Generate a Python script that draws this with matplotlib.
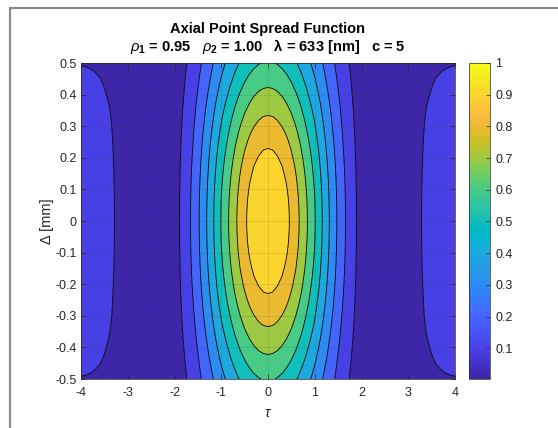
import numpy as np
import matplotlib
matplotlib.use("Agg")
import matplotlib.pyplot as plt
from matplotlib.colors import LinearSegmentedColormap, Normalize
from matplotlib.cm import ScalarMappable
from matplotlib.patches import Rectangle

plt.rcParams["font.family"] = ["Liberation Sans", "DejaVu Sans"]
plt.rcParams["mathtext.fontset"] = "custom"
plt.rcParams["mathtext.rm"] = "Liberation Sans"
plt.rcParams["mathtext.it"] = "Liberation Sans:italic"
plt.rcParams["mathtext.bf"] = "Liberation Sans:bold"
plt.rcParams["axes.unicode_minus"] = False

# ---- data -----------------------------------------------------------------
# sample grid
tau = np.linspace(-4.0, 4.0, 81)
delta = np.linspace(-0.5, 0.5, 41)   # [mm]

# normalised intensity along tau (at delta = 0)
profile_tau = [
    0.162, 0.159, 0.154, 0.147, 0.138, 0.127, 0.115, 0.102, 0.089, 0.074,
    0.058, 0.043, 0.028, 0.016, 0.008, 0.005, 0.006, 0.011, 0.022, 0.040,
    0.065, 0.097, 0.138, 0.179, 0.228, 0.283, 0.344, 0.407, 0.473, 0.540,
    0.606, 0.666, 0.725, 0.782, 0.835, 0.882, 0.923, 0.956, 0.980, 0.995,
    1.000,
    0.995, 0.980, 0.956, 0.923, 0.882, 0.835, 0.782, 0.725, 0.666, 0.606,
    0.540, 0.473, 0.407, 0.344, 0.283, 0.228, 0.179, 0.138, 0.097, 0.065,
    0.040, 0.022, 0.011, 0.006, 0.005, 0.008, 0.016, 0.028, 0.043, 0.058,
    0.074, 0.089, 0.102, 0.115, 0.127, 0.138, 0.147, 0.154, 0.159, 0.162,
]

# relative falloff along delta for the main lobe and for the side lobes
falloff_main = [
    0.607, 0.637, 0.667, 0.697, 0.726, 0.755, 0.783, 0.810, 0.835, 0.860,
    0.883, 0.904, 0.923, 0.941, 0.956, 0.969, 0.980, 0.989, 0.995, 0.999,
    1.000,
    0.999, 0.995, 0.989, 0.980, 0.969, 0.956, 0.941, 0.923, 0.904, 0.883,
    0.860, 0.835, 0.810, 0.783, 0.755, 0.726, 0.697, 0.667, 0.637, 0.607,
]
falloff_side = [
    0.590, 0.670, 0.735, 0.780, 0.820, 0.858, 0.890, 0.912, 0.930, 0.942,
    0.952, 0.962, 0.970, 0.978, 0.985, 0.989, 0.993, 0.996, 0.998, 1.000,
    1.000,
    1.000, 0.998, 0.996, 0.993, 0.989, 0.985, 0.978, 0.970, 0.962, 0.952,
    0.942, 0.930, 0.912, 0.890, 0.858, 0.820, 0.780, 0.735, 0.670, 0.590,
]
side_lobe_start = 2.55

contour_levels = [0.1, 0.2, 0.3, 0.4, 0.5, 0.6, 0.7, 0.8, 0.9]
colorbar_ticks = [0.1, 0.2, 0.3, 0.4, 0.5, 0.6, 0.7, 0.8, 0.9, 1.0]
colorbar_ticklabels = ["0.1", "0.2", "0.3", "0.4", "0.5", "0.6", "0.7", "0.8", "0.9", "1"]
xticks = [-4, -3, -2, -1, 0, 1, 2, 3, 4]
yticks = [-0.5, -0.4, -0.3, -0.2, -0.1, 0, 0.1, 0.2, 0.3, 0.4, 0.5]
yticklabels = ["-0.5", "-0.4", "-0.3", "-0.2", "-0.1", "0", "0.1", "0.2", "0.3", "0.4", "0.5"]

# ---- parula colormap --------------------------------------------------------
parula_data = [
    [0.2422, 0.1504, 0.6603], [0.2504, 0.1650, 0.7076], [0.2578, 0.1818, 0.7511],
    [0.2647, 0.1978, 0.7952], [0.2706, 0.2147, 0.8364], [0.2751, 0.2342, 0.8710],
    [0.2783, 0.2559, 0.8991], [0.2803, 0.2782, 0.9221], [0.2813, 0.3006, 0.9414],
    [0.2810, 0.3228, 0.9579], [0.2795, 0.3447, 0.9717], [0.2760, 0.3667, 0.9829],
    [0.2699, 0.3892, 0.9906], [0.2602, 0.4123, 0.9952], [0.2440, 0.4358, 0.9988],
    [0.2206, 0.4603, 0.9973], [0.1963, 0.4847, 0.9892], [0.1834, 0.5074, 0.9798],
    [0.1786, 0.5289, 0.9682], [0.1764, 0.5499, 0.9520], [0.1687, 0.5703, 0.9359],
    [0.1540, 0.5902, 0.9218], [0.1460, 0.6091, 0.9079], [0.1380, 0.6276, 0.8973],
    [0.1248, 0.6459, 0.8883], [0.1113, 0.6635, 0.8763], [0.0952, 0.6798, 0.8598],
    [0.0689, 0.6948, 0.8394], [0.0297, 0.7082, 0.8163], [0.0036, 0.7203, 0.7917],
    [0.0067, 0.7312, 0.7660], [0.0433, 0.7411, 0.7394], [0.0964, 0.7500, 0.7120],
    [0.1408, 0.7584, 0.6842], [0.1717, 0.7670, 0.6554], [0.1938, 0.7758, 0.6251],
    [0.2161, 0.7843, 0.5923], [0.2470, 0.7918, 0.5567], [0.2906, 0.7973, 0.5188],
    [0.3406, 0.8008, 0.4789], [0.3909, 0.8029, 0.4354], [0.4456, 0.8024, 0.3909],
    [0.5044, 0.7993, 0.3480], [0.5616, 0.7942, 0.3045], [0.6174, 0.7876, 0.2612],
    [0.6720, 0.7793, 0.2227], [0.7242, 0.7698, 0.1910], [0.7738, 0.7598, 0.1646],
    [0.8203, 0.7498, 0.1535], [0.8634, 0.7406, 0.1596], [0.9035, 0.7330, 0.1774],
    [0.9393, 0.7288, 0.2100], [0.9728, 0.7298, 0.2394], [0.9956, 0.7434, 0.2371],
    [0.9970, 0.7659, 0.2199], [0.9952, 0.7893, 0.2028], [0.9892, 0.8136, 0.1885],
    [0.9786, 0.8386, 0.1766], [0.9676, 0.8639, 0.1643], [0.9610, 0.8890, 0.1537],
    [0.9597, 0.9135, 0.1423], [0.9628, 0.9373, 0.1265], [0.9691, 0.9606, 0.1064],
    [0.9769, 0.9839, 0.0805],
]
parula = LinearSegmentedColormap.from_list("parula", parula_data, N=256)

# ---- intensity field --------------------------------------------------------
T, D = np.meshgrid(tau, delta)
main = np.outer(falloff_main, profile_tau)
side = np.outer(falloff_side, profile_tau)
Z = np.where(np.abs(T) >= side_lobe_start, side, main)

zmin, zmax = float(Z.min()), float(Z.max())
norm = Normalize(vmin=zmin, vmax=zmax)
band_edges = [zmin] + contour_levels + [zmax + 1e-9]
band_colors = [parula(norm(v)) for v in band_edges[:-1]]

# ---- figure -----------------------------------------------------------------
W, H = 558, 428
fig = plt.figure(figsize=(W / 100, H / 100), dpi=100)
fig.patch.set_facecolor("white")

# outer frame
fig.patches.append(Rectangle((10 / W, -0.2), 1.5, (H - 8) / H + 0.2,
                             transform=fig.transFigure, fill=False,
                             edgecolor="#8a8a8a", linewidth=1.6))

ax = fig.add_axes([81 / W, (H - 379) / H, 374 / W, 316 / H])
ax.contourf(T, D, Z, levels=band_edges, colors=band_colors, antialiased=True)
ax.contour(T, D, Z, levels=contour_levels, colors="black", linewidths=0.6)

ax.set_xlim(-4, 4)
ax.set_ylim(-0.5, 0.5)
ax.set_xticks(xticks)
ax.set_xticklabels([str(v) for v in xticks])
ax.set_yticks(yticks)
ax.set_yticklabels(yticklabels)
ax.tick_params(direction="in", length=3.5, width=0.5, colors="#262626",
               labelsize=9, top=True, right=True)
ax.tick_params(axis="x", pad=5.5)
ax.tick_params(axis="y", pad=3)
ax.grid(True, color="#262626", alpha=0.15, linewidth=0.5)
ax.set_axisbelow(False)
for s in ax.spines.values():
    s.set_color("#262626")
    s.set_linewidth(0.5)

ax.set_xlabel(r"$\tau$", fontsize=10.5, color="#262626", labelpad=5)
ax.set_ylabel("Δ [mm]", fontsize=10.5, color="#262626", labelpad=1)

# title
cx = (81 + 455) / 2 / W
fig.text(cx, 1 - 29 / H, "Axial Point Spread Function", ha="center", va="center",
         fontsize=10.5, fontweight="bold", color="black")
fig.text(cx, 1 - 46 / H,
         r"$\rho_\mathbf{1}$ = 0.95   $\rho_\mathbf{2}$ = 1.00   λ = 633 [nm]   c = 5",
         ha="center", va="center", fontsize=10.5, fontweight="bold", color="black")

# colorbar
cax = fig.add_axes([469 / W, (H - 379) / H, 21 / W, 316 / H])
sm = ScalarMappable(norm=norm, cmap=parula)
cb = fig.colorbar(sm, cax=cax, ticks=colorbar_ticks)
cb.ax.set_yticklabels(colorbar_ticklabels)
cb.ax.tick_params(direction="in", length=3, width=0.5, colors="#262626",
                  labelsize=9, pad=4)
cb.outline.set_edgecolor("#262626")
cb.outline.set_linewidth(0.5)

fig.savefig("out.png", dpi=100)
